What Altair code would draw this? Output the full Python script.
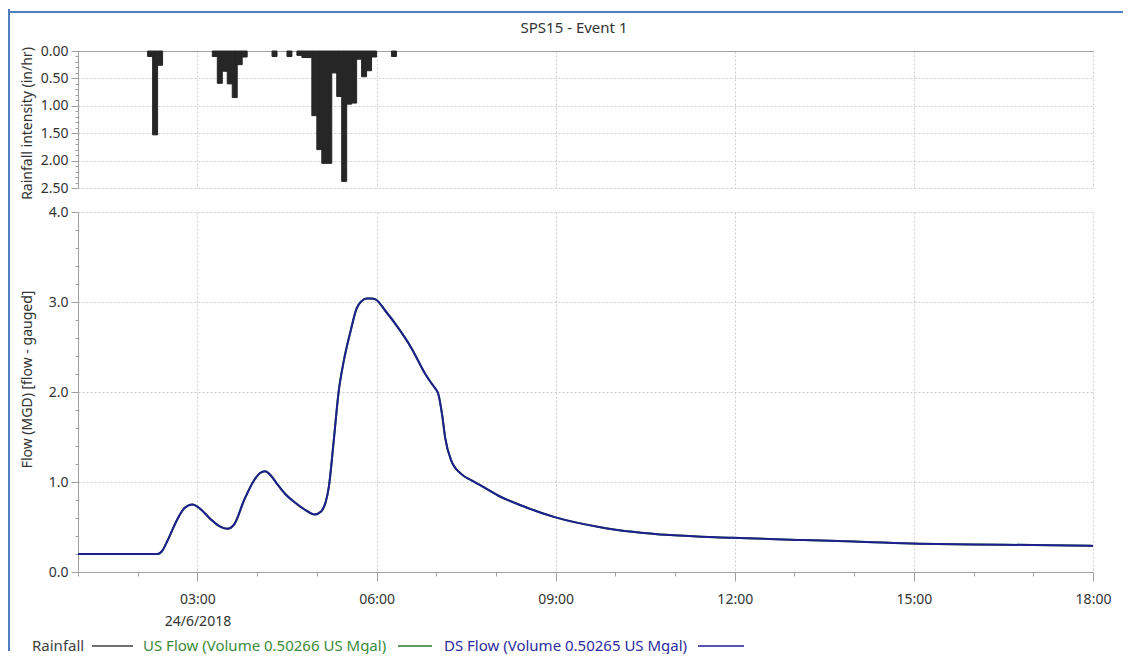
import altair as alt
import pandas as pd

DATE = "2018-06-24"
TITLE = "SPS15 - Event 1"
DATE_LABEL = "24/6/2018"

# Rainfall intensity (in/hr), 5-minute bins, start times
rain_start = ["02:10", "02:15", "02:20",
              "03:15", "03:20", "03:25", "03:30", "03:35", "03:40", "03:45",
              "04:15", "04:30",
              "04:40", "04:45", "04:50", "04:55", "05:00", "05:05", "05:10",
              "05:15", "05:20", "05:25", "05:30", "05:35", "05:40", "05:45",
              "05:50", "05:55", "06:15"]
rain_value = [0.10, 1.53, 0.26,
              0.10, 0.59, 0.37, 0.60, 0.85, 0.25, 0.11,
              0.10, 0.10,
              0.08, 0.12, 0.12, 1.18, 1.80, 2.05, 2.05,
              0.40, 0.83, 2.38, 0.97, 0.95, 0.15, 0.47,
              0.36, 0.11, 0.10]
RAIN_STEP_MIN = 5

# Flow (MGD)
flow_time = ["01:00", "02:00", "02:20", "02:25", "02:30", "02:40", "02:47", "02:55",
             "03:03", "03:13", "03:22", "03:30", "03:37", "03:47", "03:57", "04:03",
             "04:08", "04:14", "04:20", "04:28", "04:37", "04:47", "04:58", "05:04",
             "05:09", "05:12", "05:17", "05:22", "05:27", "05:34", "05:40", "05:45",
             "05:50", "05:55", "05:59", "06:09", "06:22", "06:35", "06:49", "06:55",
             "06:59", "07:02", "07:06", "07:09", "07:15", "07:25", "07:35", "07:45",
             "08:02", "08:30", "08:59", "09:49", "10:55", "11:57", "13:09", "14:00",
             "15:05", "16:00", "17:00", "18:00"]
us_flow = [0.20, 0.20, 0.20, 0.24, 0.35, 0.59, 0.71, 0.75,
           0.70, 0.59, 0.51, 0.48, 0.53, 0.80, 1.02, 1.10,
           1.12, 1.07, 0.98, 0.87, 0.78, 0.70, 0.64, 0.67,
           0.78, 0.94, 1.46, 2.01, 2.34, 2.68, 2.93, 3.01,
           3.04, 3.04, 3.03, 2.90, 2.71, 2.49, 2.20, 2.10,
           2.04, 1.98, 1.74, 1.49, 1.24, 1.09, 1.02, 0.96,
           0.85, 0.72, 0.61, 0.49, 0.41, 0.38, 0.355, 0.34,
           0.315, 0.305, 0.30, 0.29]
ds_flow = [0.20, 0.20, 0.20, 0.24, 0.35, 0.59, 0.71, 0.75,
           0.70, 0.59, 0.51, 0.48, 0.53, 0.80, 1.02, 1.10,
           1.12, 1.07, 0.98, 0.87, 0.78, 0.70, 0.64, 0.67,
           0.78, 0.94, 1.46, 2.01, 2.34, 2.68, 2.93, 3.01,
           3.04, 3.04, 3.03, 2.90, 2.71, 2.49, 2.20, 2.10,
           2.04, 1.98, 1.74, 1.49, 1.24, 1.09, 1.02, 0.96,
           0.85, 0.72, 0.61, 0.49, 0.41, 0.38, 0.355, 0.34,
           0.315, 0.305, 0.30, 0.29]

x_tick_hours = list(range(1, 19))
x_major_hours = [3, 6, 9, 12, 15, 18]
flow_ticks = [0, 0.2, 0.4, 0.6, 0.8, 1, 1.2, 1.4, 1.6, 1.8, 2, 2.2, 2.4, 2.6, 2.8,
              3, 3.2, 3.4, 3.6, 3.8, 4]
rain_ticks = [round(i * 0.1, 1) for i in range(26)]

legend_labels = ["Rainfall", "US Flow (Volume 0.50266 US Mgal)", "DS Flow (Volume 0.50265 US Mgal)"]
legend_colors = ["#404040", "#3b8a3b", "#2b2ba0"]
legend_line_colors = ["#404040", "#2e7d2e", "#1f1f99"]

FONT = "Noto Sans"
FS = 15
TXT = "#333333"
AXC = "#a0a0a0"
GRID = "#cccccc"
NAVY = "#1f1f8f"
W = 1015
H_TOP = 137
H_BOT = 360


def dt(hm):
    h, m = map(int, hm.split(":"))
    return alt.DateTime(year=2018, month=6, date=24, hours=h, minutes=m)


xscale = alt.Scale(domain=[dt("01:00"), dt("18:00")], nice=False)

# ---------------- top panel: rainfall ----------------
rain_df = pd.DataFrame({
    "start": pd.to_datetime([DATE + " " + s for s in rain_start]),
    "value": rain_value,
})
rain_df["end"] = rain_df["start"] + pd.Timedelta(minutes=RAIN_STEP_MIN)

rain_major = "abs(datum.value*2 - round(datum.value*2)) < 0.001"
rain_bars = alt.Chart(rain_df).mark_rect(color="#262626", stroke="#262626", strokeWidth=1).encode(
    x=alt.X("start:T", scale=xscale,
            axis=alt.Axis(orient="top", values=[dt(f"{h:02d}:00") for h in x_major_hours],
                          labels=False, ticks=False, domain=True, grid=True,
                          gridColor=GRID, gridDash=[2, 2], title=None)),
    x2="end:T",
    y=alt.Y("value:Q", scale=alt.Scale(domain=[0, 2.5], reverse=True, nice=False),
            axis=alt.Axis(values=rain_ticks,
                          labelExpr=f"{rain_major} ? format(datum.value, '.2f') : ''",
                          tickSize={"condition": {"test": rain_major, "value": 7}, "value": 3},
                          grid=True, gridColor=GRID, gridDash=[2, 2],
                          gridOpacity={"condition": {"test": rain_major, "value": 1}, "value": 0},
                          labelPadding=3,
                          title="Rainfall intensity (in/hr)", titleX=-44, titleY=72)),
    y2=alt.datum(0),
)

title_mark = alt.Chart(pd.DataFrame({"t": [TITLE]})).mark_text(
    font=FONT, fontSize=FS, color=TXT, align="center", baseline="middle"
).encode(text="t:N", x=alt.value(496), y=alt.value(-23))

frame_left = alt.Chart(pd.DataFrame({"a": [0]})).mark_rule(color="#4f7fbf", strokeWidth=2).encode(
    x=alt.value(-69), y=alt.value(-42), y2=alt.value(600))
frame_top = alt.Chart(pd.DataFrame({"a": [0]})).mark_rule(color="#4f7fbf", strokeWidth=2).encode(
    x=alt.value(-69), x2=alt.value(1045), y=alt.value(-39))

top = alt.layer(frame_left, frame_top, rain_bars, title_mark).properties(width=W, height=H_TOP)

# ---------------- bottom panel: flow ----------------
flow_df = pd.DataFrame({
    "time": pd.to_datetime([DATE + " " + t for t in flow_time]),
    "US": us_flow,
    "DS": ds_flow,
})

x_major = "hours(datum.value) % 3 == 0"
x_label_expr = (f"{x_major} ? (hours(datum.value) == 3 ? [timeFormat(datum.value, '%H:%M'), '{DATE_LABEL}']"
                f" : timeFormat(datum.value, '%H:%M')) : ''")
flow_major = "abs(datum.value - round(datum.value)) < 0.001"

xaxis_bottom = alt.Axis(values=[dt(f"{h:02d}:00") for h in x_tick_hours],
                        labelExpr=x_label_expr,
                        tickSize={"condition": {"test": x_major, "value": 9}, "value": 4},
                        grid=True, gridColor=GRID, gridDash=[2, 2],
                        gridOpacity={"condition": {"test": x_major, "value": 1}, "value": 0},
                        labelPadding=11, labelLineHeight=22, title=None)
yaxis_bottom = alt.Axis(values=flow_ticks,
                        labelExpr=f"{flow_major} ? format(datum.value, '.1f') : ''",
                        tickSize={"condition": {"test": flow_major, "value": 7}, "value": 3},
                        grid=True, gridColor=GRID, gridDash=[2, 2],
                        gridOpacity={"condition": {"test": flow_major, "value": 1}, "value": 0},
                        labelPadding=3,
                        title="Flow (MGD) [flow - gauged]", titleX=-44, titleY=167)

lines = alt.Chart(flow_df).transform_fold(["US", "DS"], as_=["series", "flow"]).mark_line(
    strokeWidth=2, interpolate="monotone"
).encode(
    x=alt.X("time:T", scale=xscale, axis=xaxis_bottom),
    y=alt.Y("flow:Q", scale=alt.Scale(domain=[0, 4], nice=False), axis=yaxis_bottom),
    color=alt.Color("series:N", scale=alt.Scale(domain=["US", "DS"], range=[legend_line_colors[1], NAVY]),
                    legend=None),
)

# legend (text followed by line sample)
leg_text_x = [-46, 65, 366]
leg_line_x = [(14, 55), (320, 354), (620, 666)]
LEG_Y = 434
legend_layers = []
for i, lab in enumerate(legend_labels):
    legend_layers.append(
        alt.Chart(pd.DataFrame({"label": [lab]})).mark_text(
            font=FONT, fontSize=FS, color=legend_colors[i], align="left", baseline="middle"
        ).encode(text="label:N", x=alt.value(leg_text_x[i]), y=alt.value(LEG_Y)))
    legend_layers.append(
        alt.Chart(pd.DataFrame({"a": [0]})).mark_rule(color=legend_line_colors[i], strokeWidth=1.5).encode(
            x=alt.value(leg_line_x[i][0]), x2=alt.value(leg_line_x[i][1]), y=alt.value(LEG_Y)))

bottom = alt.layer(lines, *legend_layers).properties(width=W, height=H_BOT)

chart = alt.VConcatChart(vconcat=[top, bottom], spacing=24, bounds="flush", padding=0).configure_view(
    stroke=None
).configure_axis(
    labelFont=FONT, labelFontSize=FS - 1, labelColor=TXT,
    titleFont=FONT, titleFontSize=FS - 1, titleFontWeight="normal", titleColor=TXT,
    domainColor=AXC, tickColor=AXC, labelFlush=False, labelOverlap=False, labelBound=False,
)

chart.save("out.html", embed_options={"renderer": "svg", "actions": False})
